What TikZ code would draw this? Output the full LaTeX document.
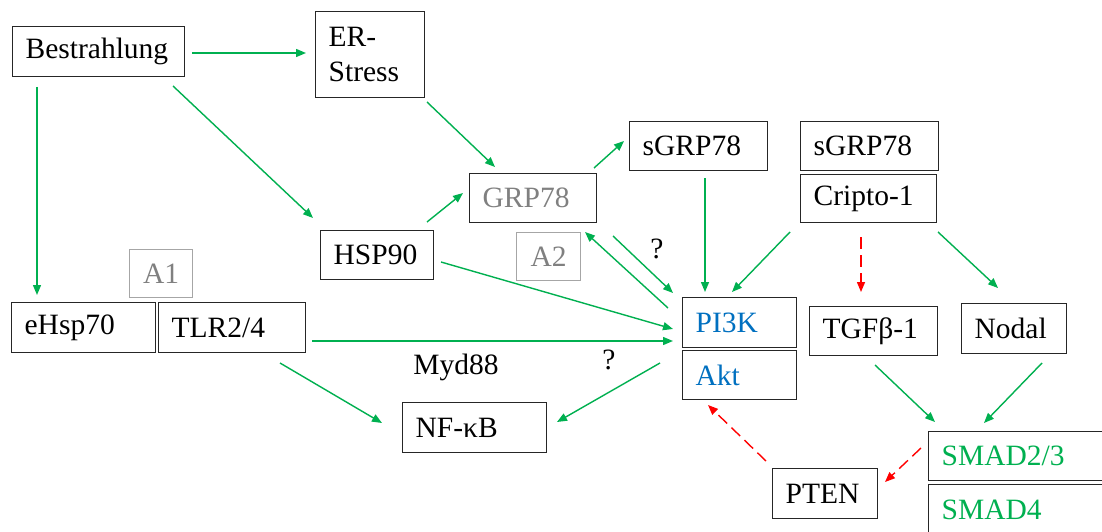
\documentclass[tikz,border=0pt]{standalone}
\usepackage{fontspec}
\setmainfont{Liberation Serif}
\usetikzlibrary{arrows.meta,calc}
\definecolor{grn}{RGB}{0,176,80}
\definecolor{blu}{RGB}{0,112,192}
\definecolor{gry}{RGB}{128,128,128}
\definecolor{rd}{RGB}{255,0,0}
\begin{document}
\begin{tikzpicture}[x=1pt,y=-1pt,
  txt/.style={font=\fontsize{29.5}{35}\selectfont},
  box/.style={txt,draw=black!85,line width=1.3pt,anchor=north west,inner ysep=0pt,inner xsep=13pt,align=left},
  gbox/.style={txt,draw=gry!70,text=gry,line width=1.3pt,anchor=north west,inner sep=0pt,align=center},
  arr/.style={draw=grn,line width=1.4pt,-{Triangle[length=10pt,width=8pt]}},
  rarr/.style={draw=rd,line width=1.4pt,dash pattern=on 12pt off 6pt,-{Triangle[length=10pt,width=8pt]}}]
\clip (0,0) rectangle (1102,532);
\fill[white] (0,0) rectangle (1102,532);
% nodes
\node[box,text width=146pt,minimum height=50pt] (bes) at (12,26) {Bestrahlung};
\node[box,text width=83pt,minimum height=86pt] (er) at (315,11) {ER-\\Stress};
\node[box,text width=101pt,minimum height=49pt,text=gry] (grp) at (469,173) {GRP78};
\node[box,text width=112pt,minimum height=49pt] (sgl) at (629,121) {sGRP78};
\node[box,text width=112pt,minimum height=49pt] (sgr) at (800,121) {sGRP78};
\node[box,text width=110pt,minimum height=48pt] (cri) at (800,174) {Cripto-1};
\node[gbox,minimum width=64pt,minimum height=48pt] (a2) at (516,232) {A2};
\node[box,text width=87pt,minimum height=49pt] (hsp) at (320,230) {HSP90};
\node[gbox,minimum width=63pt,minimum height=48pt] (a1) at (129,249) {A1};
\node[box,text width=118pt,minimum height=50pt] (ehs) at (11,302) {eHsp70};
\node[box,text width=121pt,minimum height=50pt] (tlr) at (158,302) {TLR2/4};
\node[box,text width=118pt,minimum height=50pt] (nfk) at (402,402) {NF-κB};
\node[box,text width=88pt,minimum height=50pt,text=blu] (pik) at (682,297) {PI3K};
\node[box,text width=88pt,minimum height=49pt,text=blu] (akt) at (682,350) {Akt};
\node[box,text width=102pt,minimum height=49pt] (tgf) at (809,306) {TGFβ-1};
\node[box,text width=79pt,minimum height=50pt] (nod) at (961,303) {Nodal};
\node[box,text width=154pt,minimum height=49pt,text=grn] (sm23) at (928,431) {SMAD2/3};
\node[box,text width=154pt,minimum height=50pt,text=grn] (sm4) at (928,484) {SMAD4};
\node[box,text width=79pt,minimum height=50pt] (pten) at (772,468) {PTEN};
\node[txt] (myd) at (456,367) {Myd88};
\node[txt] (q1) at (657,249) {?};
\node[txt] (q2) at (609,360) {?};
% connectors
\draw[arr] ($(bes.north west)+(192-12,53-26)$) -- ($(er.north west)+(306-315,53-11)$);
\draw[arr] ($(bes.north west)+(37-12,87-26)$) -- ($(ehs.north west)+(37-11,295-302)$);
\draw[arr] ($(bes.north west)+(173-12,86-26)$) -- ($(hsp.north west)+(313-320,218-230)$);
\draw[arr] ($(er.north west)+(427-315,102-11)$) -- ($(grp.north west)+(495-469,167-173)$);
\draw[arr] ($(grp.north west)+(594-469,168-173)$) -- ($(sgl.north west)+(624-629,141-121)$);
\draw[arr] ($(hsp.north west)+(427-320,222-230)$) -- ($(grp.north west)+(463-469,193-173)$);
\draw[arr] ($(hsp.north west)+(441-320,262-230)$) -- ($(pik.north west)+(673-682,329-297)$);
\draw[arr] ($(tlr.north west)+(312-158,341-302)$) -- ($(pik.north west)+(673-682,341-297)$);
\draw[arr] ($(pik.north west)+(668-682,308-297)$) -- ($(grp.north west)+(585-469,232-173)$);
\draw[arr] ($(grp.north west)+(613-469,236-173)$) -- ($(pik.north west)+(673-682,293-297)$);
\draw[arr] ($(sgl.north west)+(705-629,178-121)$) -- ($(pik.north west)+(705-682,292-297)$);
\draw[arr] ($(cri.north west)+(790-800,232-174)$) -- ($(pik.north west)+(732-682,292-297)$);
\draw[rarr] ($(cri.north west)+(861-800,237-174)$) -- ($(tgf.north west)+(861-809,292-306)$);
\draw[arr] ($(cri.north west)+(938-800,232-174)$) -- ($(nod.north west)+(998-961,288-303)$);
\draw[arr] ($(tlr.north west)+(280-158,363-302)$) -- ($(nfk.north west)+(382-402,423-402)$);
\draw[arr] ($(akt.north west)+(660-682,363-350)$) -- ($(nfk.north west)+(557-402,422-402)$);
\draw[arr] ($(tgf.north west)+(875-809,365-306)$) -- ($(sm23.north west)+(935-928,422-431)$);
\draw[arr] ($(nod.north west)+(1042-961,363-303)$) -- ($(sm23.north west)+(984-928,423-431)$);
\draw[rarr] ($(sm23.north west)+(921-928,448-431)$) -- ($(pten.north west)+(885-772,482-468)$);
\draw[rarr] ($(pten.north west)+(766-772,461-468)$) -- ($(akt.north west)+(708-682,405-350)$);
\end{tikzpicture}
\end{document}
